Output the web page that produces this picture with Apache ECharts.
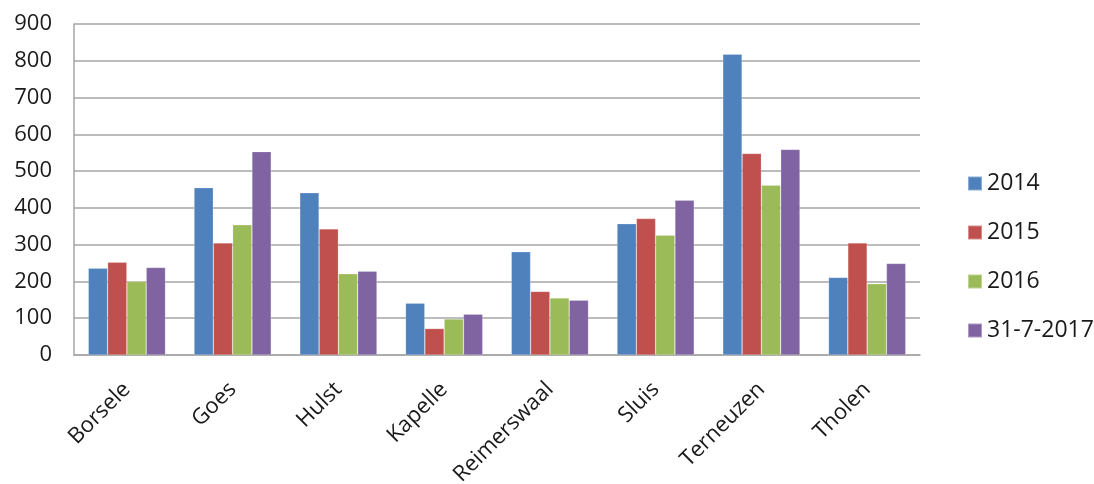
<!DOCTYPE html>
<html>
<head>
<meta charset="utf-8">
<script src="https://cdn.jsdelivr.net/npm/echarts@6/dist/echarts.min.js"></script>
<style>
  html, body { margin: 0; padding: 0; background: #ffffff; }
  #chart { width: 1094px; height: 484px; }
</style>
</head>
<body>
<div id="chart"></div>
<script>
// Gemeenten en jaarcijfers
const categories = ['Borsele', 'Goes', 'Hulst', 'Kapelle', 'Reimerswaal', 'Sluis', 'Terneuzen', 'Tholen'];
const seriesNames = ['2014', '2015', '2016', '31-7-2017'];
const values2014 = [236, 455, 441, 141, 281, 357, 818, 211];
const values2015 = [252, 305, 343, 72, 173, 371, 548, 305];
const values2016 = [200, 354, 221, 98, 155, 326, 462, 194];
const values2017 = [238, 553, 228, 111, 149, 421, 559, 249];
const yTicks = [0, 100, 200, 300, 400, 500, 600, 700, 800, 900];

const palette = ['#4F81BD', '#C0504D', '#9BBB59', '#8064A2'];
const allValues = [values2014, values2015, values2016, values2017];
const fontFamily = '"Open Sans", "Noto Sans", sans-serif';

const chart = echarts.init(document.getElementById('chart'), null, { renderer: 'canvas' });

chart.setOption({
  animation: false,
  color: palette,
  grid: { left: 74, top: 24, width: 846, height: 331, containLabel: false, outerBoundsMode: 'none' },
  legend: {
    orient: 'vertical',
    left: 962,
    top: 167,
    itemWidth: 14,
    itemHeight: 14,
    itemGap: 26,
    icon: 'rect',
    textStyle: { fontFamily, fontSize: 23, color: '#1a1a1a', lineHeight: 22, padding: [0, 0, 0, 0] },
    data: seriesNames
  },
  xAxis: {
    type: 'category',
    data: categories,
    axisLine: { show: true, lineStyle: { color: '#a6a6a6', width: 1.5 } },
    axisTick: { show: false },
    axisLabel: {
      rotate: 45,
      margin: 31,
      fontFamily,
      fontSize: 22,
      color: '#1a1a1a',
      interval: 0
    }
  },
  yAxis: {
    type: 'value',
    min: yTicks[0],
    max: yTicks[yTicks.length - 1],
    interval: 100,
    axisLine: { show: true, lineStyle: { color: '#a6a6a6', width: 1.5 } },
    axisTick: { show: false },
    splitLine: { lineStyle: { color: '#a6a6a6', width: 1.5 } },
    axisLabel: { margin: 22, fontFamily, fontSize: 22, color: '#1a1a1a' }
  },
  series: seriesNames.map((name, i) => ({
    name,
    type: 'bar',
    data: allValues[i],
    barGap: '0%',
    barCategoryGap: '27%',
    itemStyle: { color: palette[i], borderColor: 'rgba(255,255,255,0.35)', borderWidth: 0.6 }
  }))
});
</script>
</body>
</html>
